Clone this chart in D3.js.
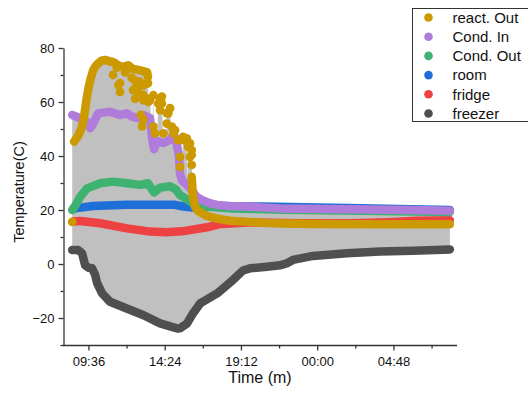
<!DOCTYPE html>
<html>
<head>
<meta charset="utf-8">
<script src="https://cdn.jsdelivr.net/npm/d3@7"></script>
<style>
  html, body { margin: 0; padding: 0; background: #fff; }
  svg { display: block; font-family: Arial, "Liberation Sans", sans-serif; }
</style>
</head>
<body>
<svg id="chart" width="528" height="397"></svg>
<script>
// Time is in hours from midnight of the first day (values above 24 fall on the next day).
const seriesNames = ["react. Out", "Cond. In", "Cond. Out", "room", "fridge", "freezer"];
const seriesColors = ["#CC9900", "#B07CDC", "#3DB271", "#1F6FD8", "#EE4242", "#4F4F4F"];

// react. Out: continuous trace (null marks the break) and the scattered readings
const reactOut = [[8.70,45.3],[8.83,46.5],[8.95,47.3],[9.15,50.0],[9.27,52.5],[9.40,57.5],[9.48,61.0],[9.60,65.0],
  [9.71,68.0],[9.90,71.8],[10.05,73.3],[10.21,74.3],[10.40,75.2],[10.65,75.6],[10.96,75.0],[11.15,74.8],[11.28,74.4],
  [11.50,73.5],[11.72,73.0],[11.91,73.3],[12.10,73.6],[12.35,72.3],[12.80,71.8],[13.29,71.1],[13.35,69.3],
  [13.40,null],
  [16.10,32.3],[16.14,28.6],[16.18,24.9],[16.31,21.2],[16.50,19.6],[16.81,18.6],[17.07,17.7],[17.70,16.8],
  [18.51,16.0],[19.77,15.6],[20.84,15.2],[23.74,14.8],[27.95,14.7],[32.35,14.7]];
const reactOutSpread = [[8.58,15.6],[11.15,70.0],[11.39,72.7],[11.49,66.2],[11.59,63.7],[11.59,67.0],[11.91,71.0],
  [12.22,73.0],[12.33,68.9],[12.41,64.4],[12.54,68.0],[12.54,61.2],[12.64,66.2],[12.74,63.7],[12.85,67.5],[12.90,55.2],
  [12.98,51.0],[13.04,62.6],[13.06,60.7],[13.06,66.2],[13.06,53.5],[13.27,70.7],[13.27,66.8],[13.35,67.0],[13.37,61.2],
  [13.37,60.0],[13.48,60.7],[13.69,62.5],[13.69,50.9],[13.79,48.4],[14.00,59.4],[14.11,61.2],[14.11,57.0],[14.22,62.0],
  [14.22,59.5],[14.32,48.4],[14.53,52.0],[14.53,55.9],[14.63,55.8],[14.74,57.7],[14.85,50.9],[14.95,48.4],[15.05,49.6],
  [15.24,45.9],[15.37,39.7],[15.37,36.0],[15.56,45.9],[15.56,47.1],[15.79,46.5],[15.87,43.4],[15.99,44.7],[15.99,39.7],
  [16.10,42.2],[16.10,40.4],[16.10,36.7]];

const condIn = [[8.58,55.2],[9.08,54.0],[9.52,52.5],[9.71,50.3],[9.90,52.0],[10.21,55.8],[10.96,56.4],[11.59,55.2],
  [12.03,55.8],[12.35,54.6],[12.73,54.0],[13.04,55.2],[13.48,54.0],[13.60,47.0],[13.73,42.5],[13.92,45.5],[14.30,44.8],
  [14.74,46.0],[14.99,48.0],[15.18,44.0],[15.30,40.0],[15.37,33.5],[15.49,31.0],[15.99,28.2],[16.40,25.0],[16.81,23.5],
  [17.25,22.5],[17.70,21.9],[18.51,21.5],[19.77,21.2],[21.66,20.6],[25.88,20.3],[30.02,20.0],[32.35,19.7]];

const condOut = [[8.58,20.0],[8.76,21.5],[9.08,24.9],[9.52,28.0],[10.34,29.9],[11.15,30.5],[12.03,29.9],[12.85,29.3],
  [13.35,29.9],[13.73,26.5],[14.11,28.3],[14.74,28.8],[15.11,27.6],[15.37,25.5],[15.81,23.9],[16.18,22.5],[16.63,21.5],
  [18.51,20.6],[22.00,20.1],[27.95,19.6],[32.35,19.3]];

const room = [[8.76,20.6],[9.90,21.5],[12.03,21.9],[14.11,21.9],[15.05,21.9],[15.56,21.3],[16.18,20.9],[18.00,21.4],
  [20.59,21.3],[25.88,20.7],[32.35,20.0]];

const fridge = [[8.64,15.7],[9.08,15.9],[10.34,15.1],[12.03,13.2],[13.48,12.0],[14.50,11.8],[15.50,12.1],[17.07,13.6],
  [17.80,14.7],[19.58,15.4],[22.92,15.1],[26.06,15.1],[28.50,15.5],[30.27,16.0],[32.35,16.2]];

const freezer = [[8.58,5.2],[8.95,5.2],[9.20,4.0],[9.39,-0.4],[9.60,-1.4],[9.83,-1.6],[10.02,-4.0],[10.15,-7.1],
  [10.46,-10.9],[10.96,-14.0],[11.97,-16.4],[13.04,-18.9],[14.11,-22.0],[14.80,-23.2],[15.24,-23.9],[15.37,-23.8],
  [15.81,-22.0],[16.18,-18.3],[16.63,-14.6],[17.70,-10.9],[18.70,-5.9],[19.33,-2.4],[19.77,-1.6],[20.84,-1.0],
  [21.66,-0.5],[22.10,0.3],[22.47,1.5],[23.74,3.0],[25.88,4.0],[27.95,4.6],[30.02,4.9],[32.35,5.4]];

const xMajorTicks = [9.6, 14.4, 19.2, 24.0, 28.8];
const xMinorTicks = [12.0, 16.8, 21.6, 26.4, 31.2];
const yMajorTicks = [-20, 0, 20, 40, 60, 80];
const yMinorTicks = [-30, -10, 10, 30, 50, 70];

const svg = d3.select("#chart");
const x = d3.scaleLinear().domain([8.0, 32.8]).range([63, 457]);
const y = d3.scaleLinear().domain([-30, 80]).range([345, 48]);

const timeLabel = h => {
  const m = Math.round((h % 24) * 60);
  return String(Math.floor(m / 60)).padStart(2, "0") + ":" + String(m % 60).padStart(2, "0");
};

// ---- grey band between the highest reading and the freezer ----
function segments(series) {
  const out = []; let cur = [];
  series.forEach(d => { if (d[1] === null) { if (cur.length) out.push(cur); cur = []; } else cur.push(d); });
  if (cur.length) out.push(cur);
  return out;
}
function valueAt(seg, t) {
  if (t < seg[0][0] || t > seg[seg.length - 1][0]) return null;
  for (let i = 1; i < seg.length; i++) {
    if (t <= seg[i][0]) {
      const a = seg[i - 1], b = seg[i];
      const f = b[0] === a[0] ? 1 : (t - a[0]) / (b[0] - a[0]);
      return a[1] + f * (b[1] - a[1]);
    }
  }
  return seg[0][1];
}
const upperSegs = [reactOut, condIn, condOut, room, fridge, freezer].flatMap(segments);
const times = Array.from(new Set([reactOut, condIn, condOut, room, fridge, freezer, reactOutSpread]
  .flatMap(s => s.filter(d => d[1] !== null).map(d => d[0])))).sort((a, b) => a - b)
  .filter(t => t >= freezer[0][0] && t <= freezer[freezer.length - 1][0]);
const band = times.map(t => {
  let hi = -Infinity;
  upperSegs.forEach(s => { const v = valueAt(s, t); if (v !== null) hi = Math.max(hi, v); });
  reactOutSpread.forEach(d => { if (d[0] === t) hi = Math.max(hi, d[1]); });
  return { t, hi, lo: valueAt(freezer, t) };
});
svg.append("path")
  .attr("fill", "#C0C0C0")
  .attr("d", d3.area().x(d => x(d.t)).y0(d => y(d.lo)).y1(d => y(d.hi))(band));

// ---- series, drawn freezer first so react. Out sits on top ----
const allSeries = [reactOut, condIn, condOut, room, fridge, freezer];
const line = d3.line().defined(d => d[1] !== null).x(d => x(d[0])).y(d => y(d[1]));
const marks = svg.append("g");
for (let i = allSeries.length - 1; i >= 0; i--) {
  marks.append("path")
    .attr("d", line(allSeries[i]))
    .attr("fill", "none")
    .attr("stroke", seriesColors[i])
    .attr("stroke-width", 8.5)
    .attr("stroke-linecap", "round")
    .attr("stroke-linejoin", "round");
  if (i === 0) {
    marks.selectAll("circle.spread").data(reactOutSpread).join("circle")
      .attr("class", "spread")
      .attr("cx", d => x(d[0])).attr("cy", d => y(d[1])).attr("r", 4.4)
      .attr("fill", seriesColors[0]);
  }
}

// ---- axes ----
const axisColor = "#333";
const gx = svg.append("g").attr("transform", "translate(0,345.5)")
  .call(d3.axisBottom(x).tickValues(xMajorTicks).tickFormat(timeLabel).tickSize(5).tickSizeOuter(0).tickPadding(6));
svg.append("g").attr("transform", "translate(0,345.5)")
  .call(d3.axisBottom(x).tickValues(xMinorTicks).tickFormat("").tickSize(3).tickSizeOuter(0))
  .select(".domain").remove();
const gy = svg.append("g").attr("transform", "translate(63.5,0)")
  .call(d3.axisLeft(y).tickValues(yMajorTicks).tickSize(5).tickSizeOuter(0).tickPadding(4));
svg.append("g").attr("transform", "translate(63.5,0)")
  .call(d3.axisLeft(y).tickValues(yMinorTicks).tickFormat("").tickSize(3).tickSizeOuter(0))
  .select(".domain").remove();
svg.selectAll(".domain, .tick line").attr("stroke", axisColor).attr("stroke-width", 1.3);
svg.selectAll(".tick text").attr("fill", "#111").style("font-size", "13px").style("font-family", "Arial, 'Liberation Sans', sans-serif");
gx.select(".domain").attr("d", "M63,0H457");

svg.append("text").attr("x", 260).attr("y", 383).attr("text-anchor", "middle")
  .style("font-size", "16px").attr("fill", "#111").text("Time (m)");
svg.append("text").attr("transform", "translate(24,192) rotate(-90)").attr("text-anchor", "middle")
  .style("font-size", "14.5px").attr("fill", "#111").text("Temperature(C)");

// ---- legend ----
const legend = svg.append("g");
legend.append("rect").attr("x", 412.5).attr("y", 8.5).attr("width", 130).attr("height", 113)
  .attr("fill", "#fff").attr("stroke", "#333").attr("stroke-width", 1);
seriesNames.forEach((name, i) => {
  const cy = 17.5 + i * 19.2;
  legend.append("circle").attr("cx", 428.5).attr("cy", cy).attr("r", 4.3).attr("fill", seriesColors[i]);
  legend.append("text").attr("x", 452.5).attr("y", cy + 5.2).style("font-size", "15px").attr("fill", "#111").text(name);
});
</script>
</body>
</html>
